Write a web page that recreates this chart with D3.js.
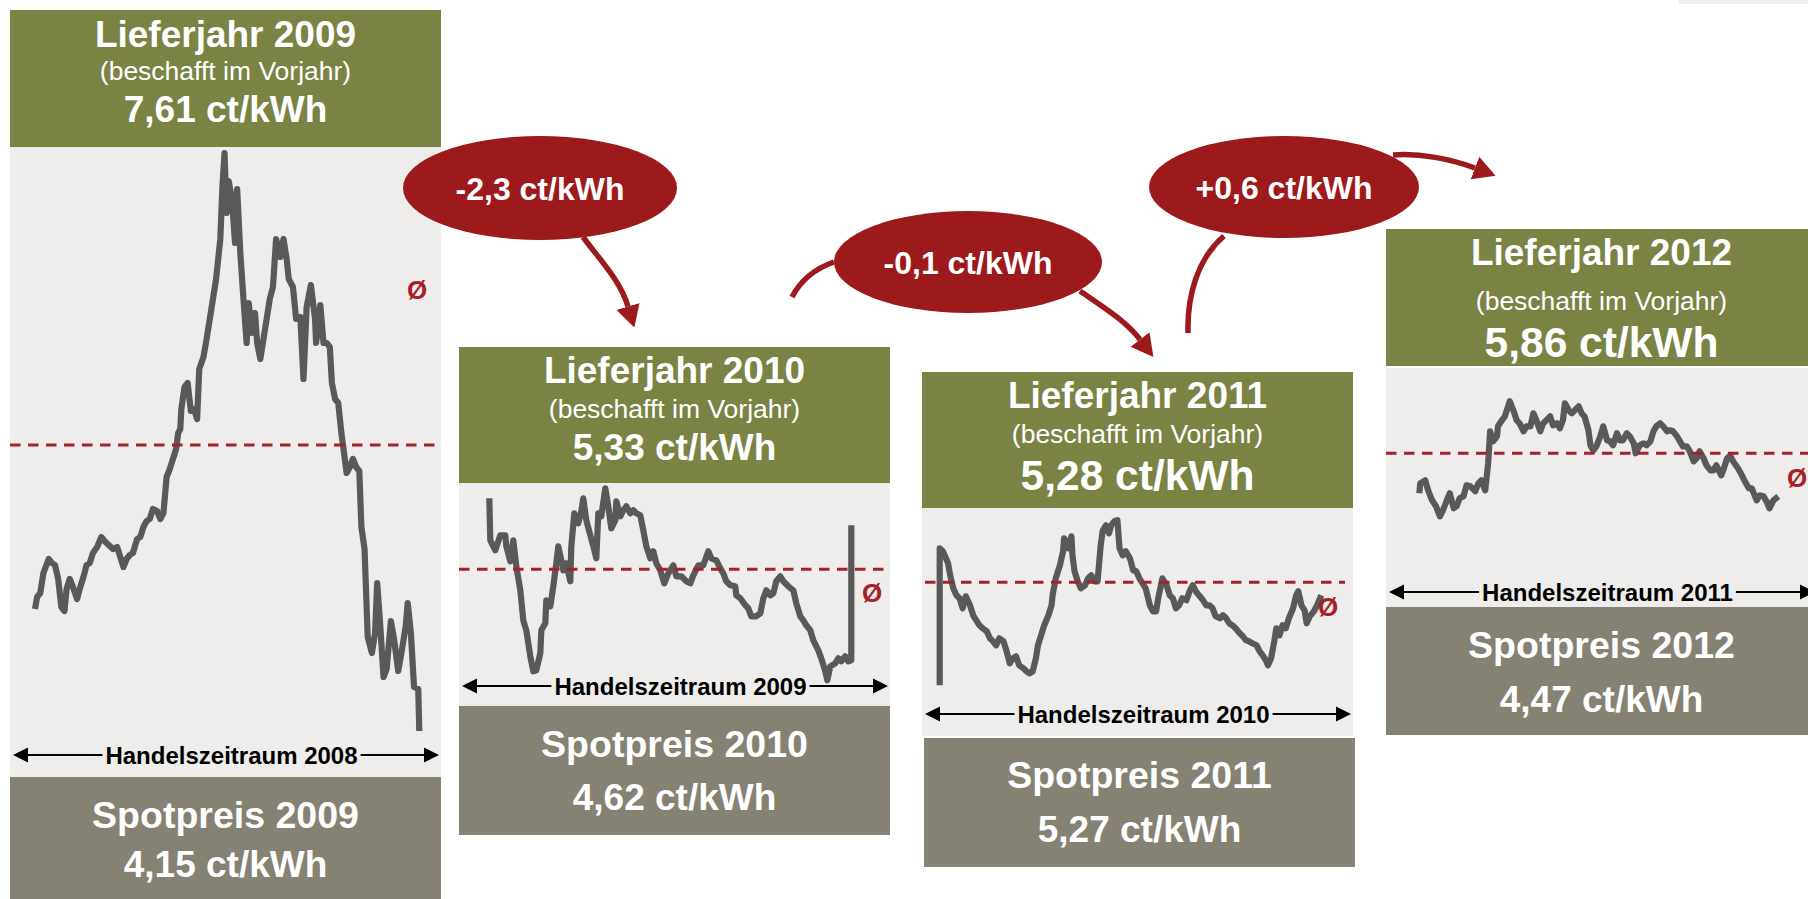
<!DOCTYPE html>
<html><head><meta charset="utf-8">
<script src="https://cdn.jsdelivr.net/npm/d3@7"></script>
<style>
body{margin:0;background:#fff}
svg{display:block}
text{font-family:"Liberation Sans",Arial,Helvetica,sans-serif}
</style>
</head><body>
<svg id="chart" width="1808" height="899"></svg>
<script>
// ---------------- DATA ----------------
const deliveryYears = ["2009", "2010", "2011", "2012"];
const tradingYears  = ["2008", "2009", "2010", "2011"];
const forwardPrices = [7.61, 5.33, 5.28, 5.86];   // ct/kWh, beschafft im Vorjahr (= Ø of trading year)
const spotPrices    = [4.15, 4.62, 5.27, 4.47];   // ct/kWh
const priceChanges  = ["-2,3 ct/kWh", "-0,1 ct/kWh", "+0,6 ct/kWh"];

// Forward price during trading year (day of year, ct/kWh)
const days2008 = [0,2,5,8,13,16,19,22,25,28,30,33,36,40,43,46,49,52,55,59,63,66,70,74,78,81,84,87,90,93,97,100,103,106,109,112,116,119,122,125,128,131,134,136,138,139,142,145,148,151,154,156,160,163,166,169,172,176,178,180,182,184,187,190,192,195,198,201,203,206,209,211,214,217,220,223,226,229,233,236,239,241,245,248,252,255,258,262,266,267,271,274,277,280,282,285,288,291,293,294,296,299,302,305,308,310,313,316,320,323,325,328,331,334,338,341,345,348,352,354,357,360,364,365];
const prices2008 = [6.79,6.85,6.87,6.97,7.04,7.02,7.01,6.94,6.80,6.78,6.89,6.94,6.90,6.84,6.90,6.95,7.01,7.02,7.07,7.10,7.15,7.13,7.11,7.09,7.10,7.05,7.00,7.04,7.06,7.07,7.14,7.15,7.20,7.23,7.24,7.29,7.28,7.24,7.27,7.45,7.49,7.54,7.59,7.67,7.69,7.79,7.90,7.92,7.78,7.79,7.74,7.99,8.05,8.14,8.24,8.34,8.44,8.64,8.90,9.07,8.77,8.93,8.84,8.62,8.89,8.57,8.34,8.12,8.32,8.17,8.27,8.12,8.04,8.14,8.24,8.34,8.40,8.64,8.55,8.64,8.54,8.44,8.40,8.24,8.25,7.94,8.30,8.41,8.24,8.12,8.31,8.12,8.12,8.10,7.92,7.84,7.82,7.67,7.59,7.55,7.47,7.50,7.54,7.50,7.48,7.20,7.09,6.65,6.57,6.67,6.92,6.70,6.45,6.49,6.73,6.64,6.48,6.57,6.70,6.82,6.67,6.40,6.39,6.18];

const days2009 = [0,1,6,11,16,17,21,24,27,31,34,37,41,44,47,51,52,56,57,61,64,67,69,72,74,77,81,82,85,89,92,94,97,101,104,107,109,112,116,119,122,126,127,131,134,137,141,144,147,151,154,157,161,164,167,171,175,179,184,187,192,197,201,204,209,214,219,222,227,231,234,237,241,246,247,251,256,259,262,267,271,274,277,281,284,287,291,294,299,304,307,311,314,317,321,324,329,332,336,338,341,346,349,352,356,359,362,362];
const prices2009 = [6.04,5.62,5.52,5.67,5.67,5.56,5.41,5.62,5.36,5.12,4.82,4.72,4.46,4.31,4.32,4.49,4.72,4.79,5.02,4.96,5.16,5.39,5.56,5.42,5.32,5.39,5.21,5.56,5.89,5.79,5.91,6.04,5.82,5.67,5.56,5.44,5.89,5.86,6.14,5.96,5.74,5.82,6.01,5.86,5.92,5.96,5.89,5.92,5.89,5.87,5.72,5.56,5.44,5.51,5.39,5.32,5.19,5.29,5.37,5.26,5.26,5.21,5.19,5.27,5.37,5.37,5.51,5.44,5.42,5.34,5.29,5.21,5.17,5.16,5.07,5.04,4.97,4.94,4.86,4.86,4.89,5.04,5.12,5.07,5.09,5.21,5.26,5.21,5.16,5.12,4.99,4.86,4.82,4.77,4.72,4.62,4.52,4.44,4.31,4.22,4.36,4.39,4.44,4.41,4.46,4.41,4.42,5.77];

const days2010 = [0,0,3,6,8,10,13,16,19,22,25,29,32,35,38,41,45,48,51,54,57,61,64,67,70,73,76,80,83,86,89,92,94,97,100,104,107,108,111,115,118,119,123,126,127,129,132,135,139,142,145,148,151,154,156,159,162,164,167,170,172,175,178,182,185,188,191,194,197,201,204,207,209,213,217,220,223,226,229,232,236,239,242,245,248,252,255,258,261,264,268,271,274,277,280,283,287,290,293,296,299,303,306,309,312,314,317,320,322,325,328,331,334,338,341,343,346,349,351,354,358,361,365];
const prices2010 = [4.25,5.62,5.59,5.52,5.47,5.35,5.22,5.15,5.12,5.02,5.14,5.05,4.95,4.90,4.85,4.82,4.79,4.72,4.69,4.65,4.72,4.69,4.59,4.47,4.52,4.54,4.45,4.42,4.39,4.37,4.39,4.52,4.65,4.75,4.85,4.95,5.05,5.15,5.32,5.45,5.59,5.72,5.62,5.74,5.55,5.39,5.29,5.22,5.25,5.32,5.35,5.29,5.29,5.65,5.80,5.85,5.77,5.85,5.89,5.90,5.62,5.55,5.59,5.52,5.40,5.39,5.32,5.27,5.22,5.05,4.99,4.99,5.12,5.32,5.25,5.15,5.12,5.02,5.05,5.12,5.10,5.19,5.25,5.19,5.15,5.10,5.05,5.05,5.02,4.94,4.92,4.95,4.92,4.87,4.85,4.82,4.77,4.74,4.70,4.69,4.67,4.65,4.59,4.55,4.50,4.45,4.52,4.69,4.82,4.75,4.85,4.82,4.92,5.02,5.15,5.19,5.05,5.00,4.87,4.94,4.99,5.05,5.15];

const days2011 = [0,1,6,9,13,17,21,24,28,31,35,38,41,45,48,52,57,60,63,67,70,72,75,79,80,84,87,89,92,96,99,102,106,109,113,116,119,123,126,129,133,136,140,143,146,148,152,155,158,162,165,168,172,174,177,180,184,187,191,194,197,201,204,207,211,214,218,220,224,228,231,235,238,241,245,248,252,255,258,262,265,268,272,275,279,282,285,289,292,296,299,302,307,309,313,316,319,324,328,331,335,338,343,346,350,353,356,360,365];
const prices2011 = [5.46,5.56,5.59,5.49,5.39,5.33,5.23,5.29,5.39,5.46,5.31,5.33,5.41,5.43,5.54,5.53,5.48,5.56,5.59,5.49,5.76,6.08,5.98,6.03,6.13,6.19,6.23,6.29,6.38,6.28,6.19,6.16,6.08,6.13,6.13,6.26,6.19,6.08,6.16,6.19,6.23,6.14,6.16,6.11,6.19,6.36,6.29,6.26,6.29,6.33,6.26,6.23,6.09,5.94,5.89,5.93,6.03,6.13,5.99,5.98,5.94,6.06,5.99,5.99,6.06,6.03,5.96,5.86,5.94,5.96,5.94,5.98,6.08,6.13,6.16,6.13,6.08,6.09,6.08,6.03,5.98,5.93,5.93,5.88,5.78,5.81,5.88,5.81,5.74,5.69,5.69,5.74,5.64,5.69,5.81,5.84,5.78,5.71,5.64,5.58,5.51,5.51,5.39,5.44,5.43,5.38,5.31,5.39,5.43];

const seriesDays   = [days2008, days2009, days2010, days2011];
const seriesPrices = [prices2008, prices2009, prices2010, prices2011];

// ---------------- LAYOUT ----------------
const COL = {
  green: "#7a8343", spot: "#858273", bg: "#eeedeb", red: "#9c1a1b",
  dash: "#a6222a", line: "#595959", white: "#ffffff", black: "#000000"
};
const panels = [
  {x:10,   w:431, head:[10,147],  chart:[147,777], spot:[777,899], spotX:10,   lineX:[35,419.3],   pxPerCt:200, dashY:445,   dashX:[10,439],    hb:[37,70,112],  valSize:37, sb:[51,100], arrowY:755, avgMark:[417,290]},
  {x:459,  w:431, head:[347,483], chart:[483,706], spot:[706,835], spotX:459,  lineX:[489.3,854.3], pxPerCt:100, dashY:569.3, dashX:[459,890],   hb:[36,71,113],  valSize:37, sb:[51,104], arrowY:686, avgMark:[872,593]},
  {x:922,  w:431, head:[372,508], chart:[508,736], spot:[738,867], spotX:924,  lineX:[939.7,1321.3], pxPerCt:100, dashY:582.3, dashX:[925,1345],  hb:[36,71,118],  valSize:42.5, sb:[50,104], arrowY:714, avgMark:[1328,607]},
  {x:1386, w:431, head:[229,366], chart:[368,607], spot:[607,735], spotX:1386, lineX:[1419.3,1778.3], pxPerCt:100, dashY:453.3, dashX:[1386,1808], hb:[36,81,128],  valSize:42.5, sb:[51,105], arrowY:592, avgMark:[1797,478]}
];
const bubbles = [
  {cx:540,  cy:188, rx:137, ry:52},
  {cx:968,  cy:262, rx:134, ry:51},
  {cx:1284, cy:187, rx:135, ry:51}
];
const connectors = [
  {d:"M583,237 C600,260 620,280 628,306.5", head:true},
  {d:"M792,297 Q805,272 834,262", head:false},
  {d:"M1080,291 C1100,305 1125,320 1140,339.5", head:true},
  {d:"M1188,333 C1187,295 1198,258 1224,236", head:false},
  {d:"M1393,155 C1420,153 1451,159 1475,168", head:true}
];

// ---------------- DRAW ----------------
const fmt = v => d3.format(".2f")(v).replace(".", ",") + " ct/kWh";
const svg = d3.select("#chart");

svg.append("rect").attr("x",0).attr("y",0).attr("width",1808).attr("height",899).attr("fill","#fff");
svg.append("rect").attr("x",1679).attr("y",0).attr("width",129).attr("height",4).attr("fill",COL.bg);

const defs = svg.append("defs");
defs.append("marker").attr("id","bighead")
  .attr("markerUnits","userSpaceOnUse").attr("viewBox","0 0 22 24")
  .attr("refX",0).attr("refY",12).attr("markerWidth",22).attr("markerHeight",24)
  .attr("orient","auto")
  .append("path").attr("d","M0,0 L22,12 L0,24 Z").attr("fill",COL.red);

panels.forEach((p, i) => {
  const g = svg.append("g");
  g.append("rect").attr("x",p.x).attr("y",p.chart[0]).attr("width",p.w).attr("height",p.chart[1]-p.chart[0]).attr("fill",COL.bg);
  g.append("rect").attr("x",p.x).attr("y",p.head[0]).attr("width",p.w).attr("height",p.head[1]-p.head[0]).attr("fill",COL.green);
  g.append("rect").attr("x",p.spotX).attr("y",p.spot[0]).attr("width",p.w).attr("height",p.spot[1]-p.spot[0]).attr("fill",COL.spot);

  const cx = p.x + p.w/2;
  const ht = g.append("g").attr("fill",COL.white).attr("text-anchor","middle");
  ht.append("text").attr("x",cx).attr("y",p.head[0]+p.hb[0]).attr("font-weight","bold").attr("font-size",37).text("Lieferjahr " + deliveryYears[i]);
  ht.append("text").attr("x",cx).attr("y",p.head[0]+p.hb[1]).attr("font-size",26.5).text("(beschafft im Vorjahr)");
  ht.append("text").attr("x",cx).attr("y",p.head[0]+p.hb[2]).attr("font-weight","bold").attr("font-size",p.valSize).text(fmt(forwardPrices[i]));

  const scx = p.spotX + p.w/2;
  const st = g.append("g").attr("fill",COL.white).attr("text-anchor","middle").attr("font-weight","bold");
  st.append("text").attr("x",scx).attr("y",p.spot[0]+p.sb[0]).attr("font-size",37.5).text("Spotpreis " + deliveryYears[i]);
  st.append("text").attr("x",scx).attr("y",p.spot[0]+p.sb[1]).attr("font-size",37).text(fmt(spotPrices[i]));

  const x = d3.scaleLinear().domain([0,365]).range(p.lineX);
  const avg = forwardPrices[i];
  const y = d3.scaleLinear().domain([avg, avg+1]).range([p.dashY, p.dashY - p.pxPerCt]);

  const pts = seriesDays[i].map((d,j) => ({day:d, price:seriesPrices[i][j]}));
  g.append("path").datum(pts)
    .attr("d", d3.line().x(d=>x(d.day)).y(d=>y(d.price)))
    .attr("fill","none").attr("stroke",COL.line).attr("stroke-width",6.2)
    .attr("stroke-linejoin","round");

  g.append("line").attr("x1",p.dashX[0]).attr("x2",p.dashX[1]).attr("y1",y(avg)).attr("y2",y(avg))
    .attr("stroke",COL.dash).attr("stroke-width",3).attr("stroke-dasharray","10.5,7.5");
  g.append("text").attr("x",p.avgMark[0]).attr("y",p.avgMark[1]+9).attr("text-anchor","middle")
    .attr("font-weight","bold").attr("font-size",26).attr("fill",COL.dash).text("Ø");

  const ay = p.arrowY;
  const ax0 = p.x + 3, ax1 = p.x + p.w - 2;
  const tx = cx + 6;
  const lab = g.append("text").attr("x",tx).attr("y",ay+8.5).attr("text-anchor","middle")
    .attr("font-weight","bold").attr("font-size",24).attr("fill",COL.black)
    .text("Handelszeitraum " + tradingYears[i]);
  const tw = lab.node().getComputedTextLength();
  g.append("line").attr("x1",ax0+12).attr("x2",tx - tw/2 - 3).attr("y1",ay).attr("y2",ay).attr("stroke",COL.black).attr("stroke-width",2);
  g.append("line").attr("x1",tx + tw/2 + 3).attr("x2",ax1-12).attr("y1",ay).attr("y2",ay).attr("stroke",COL.black).attr("stroke-width",2);
  g.append("path").attr("d",`M${ax0},${ay} L${ax0+15},${ay-7.5} L${ax0+15},${ay+7.5} Z`).attr("fill",COL.black);
  g.append("path").attr("d",`M${ax1},${ay} L${ax1-15},${ay-7.5} L${ax1-15},${ay+7.5} Z`).attr("fill",COL.black);
});

connectors.forEach(c => {
  const path = svg.append("path").attr("d",c.d).attr("fill","none")
    .attr("stroke",COL.red).attr("stroke-width",5.5);
  if (c.head) path.attr("marker-end","url(#bighead)");
});

bubbles.forEach((b, i) => {
  svg.append("ellipse").attr("cx",b.cx).attr("cy",b.cy).attr("rx",b.rx).attr("ry",b.ry).attr("fill",COL.red);
  svg.append("text").attr("x",b.cx).attr("y",b.cy+11.5).attr("text-anchor","middle")
    .attr("font-weight","bold").attr("font-size",32).attr("fill",COL.white).text(priceChanges[i]);
});
</script>
</body></html>
